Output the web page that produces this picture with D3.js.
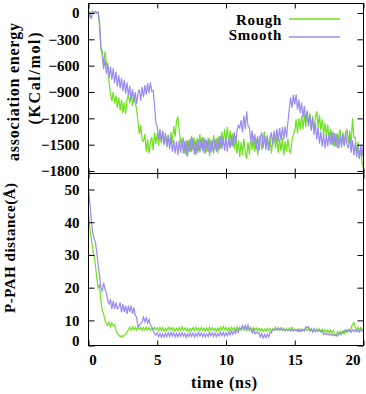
<!DOCTYPE html>
<html><head><meta charset="utf-8">
<script src="https://cdn.jsdelivr.net/npm/d3@7"></script>
<style>
body{margin:0;background:#fff}
svg{display:block}
svg text{font-family:"Liberation Serif","Times New Roman","DejaVu Serif",serif !important;font-weight:bold;fill:#000}
</style>
</head><body><svg id="c" width="366" height="394" font-family="Liberation Serif"></svg>
<script>
const dt = 0.1; // ns between samples
const xTicks = [0, 5, 10, 15, 20];
const energyTicks = [0, -300, -600, -900, -1200, -1500, -1800];
const distTicks = [0, 10, 20, 30, 40, 50];
const seriesNames = ["Rough", "Smooth"];
const seriesColors = ["#6ee11e", "#9b8af0"];

const energyRough = [
0, 15, -5, 20, 5, 18, 0, 12, -150, -420,
-430, -600, -440, -580, -620, -800, -920, -1000, -900, -1030,
-940, -1080, -960, -1110, -990, -1140, -1020, -1150, -990, -930,
-1030, -910, -1060, -930, -1020, -1100, -1240, -1380, -1280, -1450,
-1460, -1380, -1580, -1440, -1600, -1470, -1410, -1560, -1360, -1490,
-1370, -1510, -1360, -1480, -1340, -1500, -1370, -1530, -1400, -1500,
-1360, -1480, -1290, -1410, -1230, -1180, -1350, -1460, -1520, -1420,
-1600, -1450, -1640, -1450, -1580, -1400, -1560, -1430, -1620, -1420,
-1570, -1380, -1540, -1410, -1600, -1440, -1580, -1420, -1630, -1450,
-1570, -1390, -1550, -1430, -1600, -1400, -1540, -1350, -1500, -1320,
-1460, -1300, -1480, -1340, -1510, -1370, -1550, -1400, -1600, -1450,
-1640, -1470, -1620, -1430, -1580, -1660, -1470, -1610, -1420, -1560,
-1400, -1580, -1430, -1620, -1460, -1390, -1560, -1420, -1350, -1530,
-1390, -1570, -1420, -1600, -1440, -1370, -1540, -1410, -1590, -1440,
-1570, -1420, -1620, -1460, -1580, -1430, -1560, -1600, -1450, -1380,
-1350, -1210, -1370, -1200, -1330, -1170, -1320, -1150, -1300, -1120,
-1280, -1140, -1320, -1170, -1350, -1190, -1120, -1300, -1160, -1340,
-1210, -1390, -1250, -1420, -1270, -1460, -1320, -1500, -1350, -1520,
-1370, -1540, -1390, -1330, -1500, -1360, -1520, -1370, -1320, -1480,
-1340, -1500, -1200, -1420, -1420, -1600, -1470, -1660, -1530, -1720,
-1760];

const energySmooth = [
-60, -10, -70, 10, -5, 12, -3, 10, -100, -380,
-480, -640, -530, -690, -570, -740, -610, -760, -630, -800,
-670, -840, -710, -860, -740, -890, -760, -920, -790, -940,
-830, -990, -870, -1020, -900, -1040, -910, -870, -1000, -840,
-960, -820, -930, -800, -910, -790, -890, -880, -1050, -1250,
-1300, -1440, -1320, -1470, -1350, -1500, -1370, -1520, -1390, -1550,
-1420, -1580, -1450, -1600, -1460, -1620, -1450, -1590, -1430, -1600,
-1460, -1620, -1450, -1590, -1430, -1580, -1420, -1610, -1460, -1600,
-1440, -1590, -1430, -1570, -1420, -1600, -1450, -1580, -1430, -1590,
-1450, -1600, -1440, -1580, -1420, -1560, -1400, -1550, -1410, -1570,
-1420, -1580, -1430, -1540, -1390, -1520, -1360, -1500, -1340, -1280,
-1310, -1220, -1360, -1170, -1320, -1120, -1290, -1300, -1460, -1340,
-1520, -1380, -1550, -1400, -1570, -1420, -1360, -1540, -1400, -1560,
-1410, -1570, -1420, -1360, -1510, -1340, -1470, -1320, -1460, -1310,
-1450, -1300, -1440, -1290, -1420, -1250, -1100, -960, -1080, -930,
-1040, -930, -1100, -990, -1140, -1020, -1190, -1060, -1240, -1110,
-1290, -1160, -1340, -1200, -1390, -1250, -1440, -1300, -1490, -1350,
-1520, -1380, -1540, -1390, -1520, -1360, -1500, -1350, -1510, -1370,
-1520, -1380, -1540, -1390, -1530, -1380, -1510, -1360, -1500, -1540,
-1410, -1590, -1450, -1620, -1480, -1640, -1500, -1660, -1510, -1630,
-1480];

const distRough = [
43, 38, 35, 32, 30, 27, 23, 20, 21, 16,
13, 12, 10, 9, 8.5, 9.5, 8, 9.2, 8.3, 8.6,
7, 6, 5.5, 5, 5.3, 5, 5.5, 5.8, 6.5, 7,
7.9, 7, 8.1, 7.1, 7.9, 7.0, 8.0, 7.2, 7.9, 6.9,
7.8, 7.0, 8.0, 7.1, 7.8, 6.9, 7.7, 7.0, 7.9, 7.1,
7.7, 6.8, 7.9, 6.9, 7.8, 6.7, 7.6, 6.8, 7.9, 7.0,
7.8, 6.9, 7.7, 6.7, 7.6, 6.8, 7.8, 6.9, 8.0, 7.0,
7.7, 6.8, 7.6, 6.6, 7.5, 6.8, 7.8, 6.9, 7.9, 7.0,
7.7, 6.8, 7.8, 6.9, 7.6, 6.7, 7.7, 6.8, 7.9, 7.0,
7.8, 6.9, 7.6, 6.7, 7.7, 6.8, 7.9, 7.0, 8.1, 7.1,
7.8, 6.9, 7.7, 6.8, 7.9, 7.0, 7.8, 6.9, 8.0, 7.1,
7.9, 7.0, 8.1, 7.1, 7.8, 6.8, 7.7, 6.9, 7.9, 7.0,
7.8, 6.9, 7.7, 6.8, 7.6, 6.7, 7.5, 6.6, 7.4, 6.7,
7.6, 6.8, 7.5, 6.6, 7.4, 7.1, 7.9, 7.0, 7.8, 6.9,
7.7, 6.8, 7.6, 6.7, 7.5, 6.8, 7.7, 6.9, 7.9, 7.0,
7.3, 7.1, 6.7, 7.5, 6.6, 7.4, 7.1, 6.7, 7.7, 6.8,
7.5, 6.6, 7.4, 6.5, 7.3, 6.6, 7.5, 6.7, 7.4, 6.5,
7.3, 6.4, 7.2, 6.3, 7.1, 6.2, 7.0, 6.1, 6.9, 5.8,
5.3, 6.5, 5.6, 6.7, 5.8, 6.8, 6.0, 7.1, 6.3, 7.3,
6.6, 7.5, 8.8, 9.4, 7.8, 7.0, 7.9, 7.1, 7.8, 7.0,
7.6];

const distSmooth = [
50, 46, 41, 37, 35, 34, 31, 27, 24, 20,
19, 21.5, 19.5, 18.5, 16, 15, 16.5, 13.5, 16, 13.5,
15.5, 13.5, 14, 15.5, 12.5, 15, 12.5, 14.5, 12, 14.5,
12.5, 14.5, 12, 14, 11.5, 11, 8, 8.5, 9, 9.5,
11, 9.5, 10.8, 9.2, 10.3, 8.5, 8, 7, 6, 5.5,
6.2, 5.0, 6.0, 4.8, 5.9, 4.9, 6.1, 5.0, 6.2, 5.1,
6.3, 5.2, 6.2, 5.0, 6.0, 4.9, 6.1, 5.1, 6.3, 5.2,
6.0, 4.8, 5.9, 5.0, 6.2, 5.1, 6.1, 4.9, 6.0, 5.1,
6.3, 5.2, 6.1, 5.0, 6.0, 4.9, 5.9, 5.1, 6.3, 5.3,
6.2, 5.1, 6.1, 5.0, 6.0, 5.2, 6.4, 5.3, 6.3, 5.2,
6.2, 5.3, 6.5, 5.5, 6.7, 5.7, 6.9, 6.0, 7.2, 6.3,
7.6, 7.3, 8.4, 7.2, 8.5, 7.4, 8.6, 7.3, 7.4, 6.2,
7.2, 5.9, 6.4, 6.1, 6.2, 4.9, 5.9, 4.6, 5.7, 4.7,
5.8, 4.9, 6.3, 6.2, 7.3, 7.0, 7.4, 7.1, 7.5, 7.2,
7.6, 7.1, 7.4, 7.0, 7.3, 6.9, 7.2, 6.8, 7.1, 6.7,
7.2, 6.8, 7.1, 6.6, 7.0, 6.7, 7.2, 6.9, 8.0, 7.8,
8.1, 7.0, 7.4, 6.4, 7.5, 6.5, 7.0, 6.6, 6.9, 6.5,
6.7, 5.7, 6.1, 5.6, 5.9, 5.5, 5.8, 5.4, 5.7, 5.3,
5.6, 5.2, 6.0, 5.7, 6.2, 6.0, 6.9, 6.6, 7.0, 6.7,
7.1, 6.4, 7.2, 6.6, 7.0, 6.5, 7.1, 6.4, 7.2, 6.7,
7.0];

const FONT = "Liberation Serif";
const svg = d3.select("#c");
const L = 88.5, R = 363.5, T1 = 3.5, B1 = 173.5, B2 = 345.5;

const x = d3.scaleLinear([0, 20], [L, R]);
const yE = d3.scaleLinear([-1828, 108], [B1, T1]);
const yD = d3.scaleLinear([2.32, 54.9], [B2, B1]).clamp(true);

const defs = svg.append("defs");
defs.append("clipPath").attr("id", "clipTop").append("rect")
  .attr("x", L).attr("y", T1).attr("width", R - L).attr("height", B1 - T1);
defs.append("clipPath").attr("id", "clipBot").append("rect")
  .attr("x", L).attr("y", B1).attr("width", R - L).attr("height", B2 - B1);

function drawSeries(data, yScale, color, clip) {
  const line = d3.line().x((d, i) => x(i * dt)).y(d => yScale(d));
  svg.append("path").datum(data)
    .attr("clip-path", `url(#${clip})`)
    .attr("fill", "none").attr("stroke", color)
    .attr("stroke-width", 1.2).attr("stroke-linejoin", "miter")
    .attr("d", line);
}

drawSeries(energyRough, yE, seriesColors[0], "clipTop");
drawSeries(energySmooth, yE, seriesColors[1], "clipTop");
drawSeries(distRough, yD, seriesColors[0], "clipBot");
drawSeries(distSmooth, yD, seriesColors[1], "clipBot");

[[T1, B1], [B1, B2]].forEach(([t, b]) => {
  svg.append("rect").attr("x", L).attr("y", t).attr("width", R - L).attr("height", b - t)
    .attr("fill", "none").attr("stroke", "#000").attr("stroke-width", 1);
});

function styleAxis(g) {
  g.attr("font-family", FONT).attr("font-size", 15).attr("font-weight", "bold");
  g.select(".domain").remove();
  g.selectAll(".tick line").attr("stroke", "#000");
  g.selectAll("text").attr("fill", "#000");
}

svg.append("g").attr("transform", `translate(${L},0)`)
  .call(d3.axisLeft(yE).tickValues(energyTicks).tickSize(-6).tickPadding(9).tickFormat(d3.format("d")))
  .call(styleAxis);
svg.append("g").attr("transform", `translate(${R},0)`)
  .call(d3.axisRight(yE).tickValues(energyTicks).tickSize(-6).tickFormat(""))
  .call(styleAxis);
svg.append("g").attr("transform", `translate(0,${T1})`)
  .call(d3.axisTop(x).tickValues(xTicks).tickSize(-5).tickFormat(""))
  .call(styleAxis);
svg.append("g").attr("transform", `translate(0,${B1})`)
  .call(d3.axisBottom(x).tickValues(xTicks).tickSize(-5).tickFormat(""))
  .call(styleAxis);

const yDAxis = svg.append("g").attr("transform", `translate(${L},0)`)
  .call(d3.axisLeft(yD).tickValues(distTicks).tickSize(-6).tickPadding(9))
  .call(styleAxis);
yDAxis.selectAll(".tick text").filter(d => d === 0).attr("dy", "0.02em");
svg.append("g").attr("transform", `translate(${R},0)`)
  .call(d3.axisRight(yD).tickValues(distTicks).tickSize(-6).tickFormat(""))
  .call(styleAxis);
svg.append("g").attr("transform", `translate(0,${B1})`)
  .call(d3.axisTop(x).tickValues(xTicks).tickSize(-5).tickFormat(""))
  .call(styleAxis);
const xAxis = svg.append("g").attr("transform", `translate(0,${B2})`)
  .call(d3.axisBottom(x).tickValues(xTicks).tickSize(-5).tickPadding(9))
  .call(styleAxis);
xAxis.selectAll(".tick text").attr("dx", d => d === 0 ? 4 : d === 20 ? -11 : 0);

function title(tr, size, len, str) {
  svg.append("text").attr("transform", tr)
    .attr("text-anchor", "middle").attr("font-size", size)
    .attr("font-family", FONT).attr("font-weight", "bold")
    .attr("textLength", len).attr("lengthAdjust", "spacing")
    .text(str);
}
title("translate(19,92) rotate(-90)", 16, 138, "association energy");
title("translate(40,78.5) rotate(-90)", 16, 92, "(KCal/mol)");
title("translate(15,248) rotate(-90)", 15, 130, "P-PAH distance(Å)");
title("translate(224,388)", 16, 66, "time (ns)");

const legY = [19, 37];
const legTextY = [24.5, 40];
seriesNames.forEach((name, i) => {
  svg.append("text").attr("x", 282).attr("y", legTextY[i])
    .attr("text-anchor", "end").attr("font-size", 15)
    .attr("font-family", FONT).attr("font-weight", "bold")
    .attr("letter-spacing", 0.7)
    .text(name);
  svg.append("line").attr("x1", 289).attr("x2", 340)
    .attr("y1", legY[i]).attr("y2", legY[i])
    .attr("stroke", seriesColors[i]).attr("stroke-width", 1.3);
});
</script>
</body></html>
